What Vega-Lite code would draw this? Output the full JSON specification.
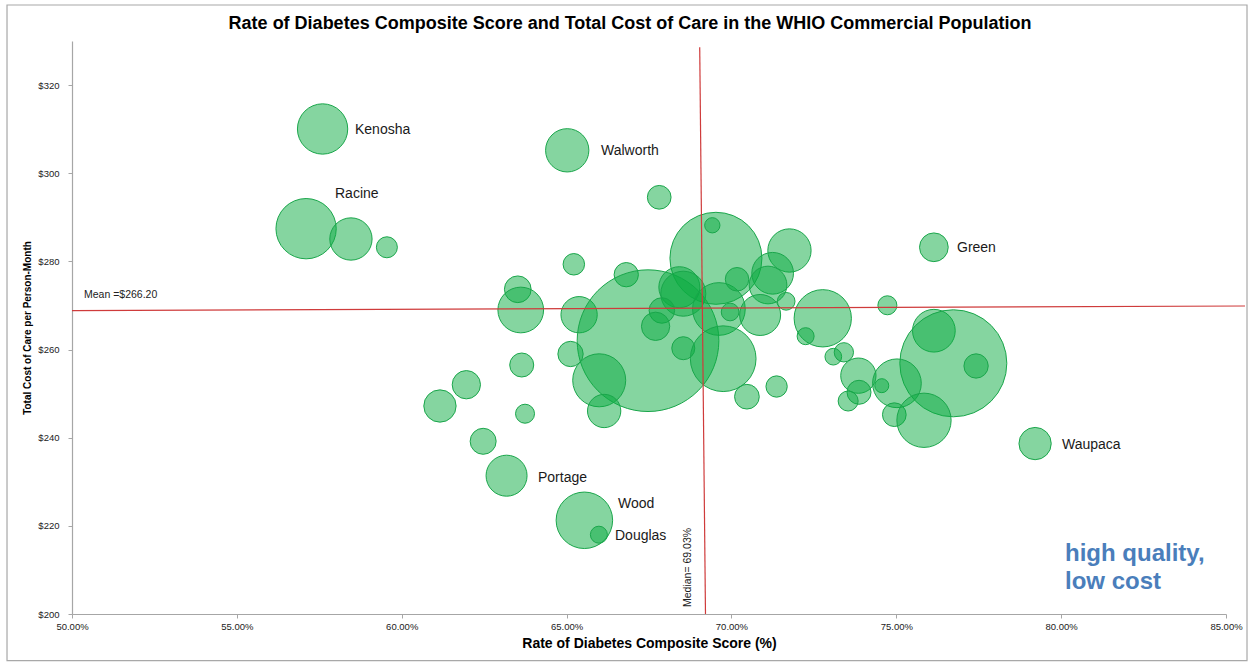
{
  "$schema": "https://vega.github.io/schema/vega-lite/v6.json",
  "width": 1154,
  "height": 573,
  "autosize": {"type": "none"},
  "padding": {"left": 72, "top": 41, "right": 25, "bottom": 48},
  "background": "white",
  "config": {
    "font": "Liberation Sans",
    "view": {"stroke": null},
    "axis": {
      "grid": false,
      "labelFlush": false,
      "domainColor": "#a6a6a6",
      "domainWidth": 1.2,
      "tickColor": "#a6a6a6",
      "tickSize": 4,
      "labelColor": "#222222",
      "titleColor": "#000000",
      "labelFont": "Liberation Sans",
      "titleFont": "Liberation Sans"
    }
  },
  "title": {
    "text": "Rate of Diabetes Composite Score and Total Cost of Care in the WHIO Commercial Population",
    "fontSize": 18,
    "fontWeight": "bold",
    "color": "#000000",
    "anchor": "middle",
    "frame": "group",
    "dx": -19,
    "offset": -29
  },
  "datasets": {
    "counties": [
      {"county": "Kenosha", "rate": 0.5760, "cost": 310.04, "members": 6325},
      {"county": "Racine", "rate": 0.5710, "cost": 287.42, "members": 9090},
      {"county": "", "rate": 0.5846, "cost": 285.08, "members": 4473},
      {"county": "", "rate": 0.5955, "cost": 283.20, "members": 1103},
      {"county": "Walworth", "rate": 0.6502, "cost": 305.20, "members": 4687},
      {"county": "", "rate": 0.6781, "cost": 294.54, "members": 1404},
      {"county": "", "rate": 0.6953, "cost": 280.70, "members": 21160},
      {"county": "", "rate": 0.6942, "cost": 288.19, "members": 585},
      {"county": "", "rate": 0.6522, "cost": 279.34, "members": 1156},
      {"county": "", "rate": 0.7176, "cost": 282.47, "members": 4687},
      {"county": "", "rate": 0.6681, "cost": 276.98, "members": 1476},
      {"county": "", "rate": 0.6352, "cost": 273.67, "members": 1782},
      {"county": "", "rate": 0.6361, "cost": 268.97, "members": 5221},
      {"county": "", "rate": 0.6538, "cost": 267.90, "members": 3294},
      {"county": "", "rate": 0.6747, "cost": 262.01, "members": 50197},
      {"county": "", "rate": 0.6842, "cost": 274.14, "members": 4203},
      {"county": "", "rate": 0.6854, "cost": 272.67, "members": 5063},
      {"county": "", "rate": 0.6789, "cost": 268.86, "members": 1626},
      {"county": "", "rate": 0.6770, "cost": 265.27, "members": 2002},
      {"county": "", "rate": 0.6854, "cost": 260.30, "members": 1323},
      {"county": "", "rate": 0.6962, "cost": 269.20, "members": 6943},
      {"county": "", "rate": 0.6996, "cost": 268.52, "members": 783},
      {"county": "", "rate": 0.6975, "cost": 257.92, "members": 10791},
      {"county": "", "rate": 0.7017, "cost": 275.94, "members": 1381},
      {"county": "", "rate": 0.7125, "cost": 277.30, "members": 4347},
      {"county": "", "rate": 0.7111, "cost": 274.64, "members": 3553},
      {"county": "", "rate": 0.7087, "cost": 267.84, "members": 4203},
      {"county": "", "rate": 0.7166, "cost": 270.94, "members": 783},
      {"county": "", "rate": 0.7277, "cost": 267.09, "members": 8208},
      {"county": "", "rate": 0.7225, "cost": 263.03, "members": 723},
      {"county": "", "rate": 0.7309, "cost": 258.38, "members": 697},
      {"county": "", "rate": 0.7341, "cost": 259.37, "members": 931},
      {"county": "", "rate": 0.6512, "cost": 258.99, "members": 1600},
      {"county": "", "rate": 0.6364, "cost": 256.49, "members": 1440},
      {"county": "", "rate": 0.6599, "cost": 253.02, "members": 7023},
      {"county": "", "rate": 0.6614, "cost": 246.06, "members": 2772},
      {"county": "", "rate": 0.6196, "cost": 252.02, "members": 2002},
      {"county": "", "rate": 0.6116, "cost": 247.19, "members": 2608},
      {"county": "", "rate": 0.6374, "cost": 245.44, "members": 903},
      {"county": "", "rate": 0.7047, "cost": 249.30, "members": 1525},
      {"county": "", "rate": 0.7137, "cost": 251.61, "members": 1134},
      {"county": "", "rate": 0.6247, "cost": 239.18, "members": 1690},
      {"county": "Portage", "rate": 0.6318, "cost": 231.38, "members": 4203},
      {"county": "Wood", "rate": 0.6554, "cost": 221.26, "members": 7981},
      {"county": "Douglas", "rate": 0.6598, "cost": 217.99, "members": 723},
      {"county": "Green", "rate": 0.7614, "cost": 283.20, "members": 2059},
      {"county": "", "rate": 0.7473, "cost": 270.04, "members": 903},
      {"county": "", "rate": 0.7614, "cost": 264.27, "members": 4558},
      {"county": "", "rate": 0.7673, "cost": 256.88, "members": 28623},
      {"county": "", "rate": 0.7742, "cost": 256.27, "members": 1476},
      {"county": "", "rate": 0.7385, "cost": 254.07, "members": 3115},
      {"county": "", "rate": 0.7387, "cost": 250.30, "members": 1440},
      {"county": "", "rate": 0.7354, "cost": 248.32, "members": 1000},
      {"county": "", "rate": 0.7456, "cost": 251.80, "members": 490},
      {"county": "", "rate": 0.7502, "cost": 252.34, "members": 5930},
      {"county": "", "rate": 0.7494, "cost": 245.22, "members": 1404},
      {"county": "", "rate": 0.7584, "cost": 243.95, "members": 7371},
      {"county": "Waupaca", "rate": 0.7921, "cost": 238.67, "members": 2608}
    ],
    "labels": [
      {"county": "Kenosha", "rate": 0.58583, "cost": 309.81},
      {"county": "Racine", "rate": 0.57977, "cost": 295.29},
      {"county": "Walworth", "rate": 0.66044, "cost": 305.04},
      {"county": "Green", "rate": 0.76841, "cost": 283.04},
      {"county": "Waupaca", "rate": 0.80026, "cost": 238.34},
      {"county": "Portage", "rate": 0.64133, "cost": 230.86},
      {"county": "Wood", "rate": 0.66560, "cost": 224.96},
      {"county": "Douglas", "rate": 0.66469, "cost": 217.70}
    ],
    "one": [{}]
  },
  "layer": [
    {
      "description": "Chart-area frame",
      "data": {"name": "one"},
      "mark": {"type": "rect", "fillOpacity": 0, "stroke": "#a8a8a8", "strokeWidth": 1.2},
      "encoding": {
        "x": {"datum": 0.48029, "type": "quantitative", "scale": {"domain": [0.5, 0.85], "nice": false, "zero": false}},
        "x2": {"datum": 0.85637},
        "y": {"datum": 338.17, "type": "quantitative", "scale": {"domain": [200, 330], "nice": false, "zero": false}},
        "y2": {"datum": 189.4}
      }
    },
    {
      "data": {"name": "counties"},
      "mark": {"type": "circle", "fill": "#0bab42", "fillOpacity": 0.5, "stroke": "#1aa64b", "strokeWidth": 1, "opacity": 1},
      "encoding": {
        "x": {
          "field": "rate",
          "type": "quantitative",
          "scale": {"domain": [0.5, 0.85], "nice": false, "zero": false},
          "axis": {
            "title": "Rate of Diabetes Composite Score (%)",
            "format": ".2%",
            "values": [0.5, 0.55, 0.6, 0.65, 0.7, 0.75, 0.8, 0.85],
            "labelFontSize": 9.5,
            "labelPadding": 3,
            "titleFontSize": 14,
            "titleFontWeight": "bold",
            "titlePadding": 6
          }
        },
        "y": {
          "field": "cost",
          "type": "quantitative",
          "scale": {"domain": [200, 330], "nice": false, "zero": false},
          "axis": {
            "title": "Total Cost of Care per Person-Month",
            "format": "$.0f",
            "values": [200, 220, 240, 260, 280, 300, 320],
            "labelFontSize": 9.5,
            "labelPadding": 9,
            "titleFontSize": 10,
            "titleFontWeight": "bold",
            "titlePadding": 5
          }
        },
        "size": {
          "field": "members",
          "type": "quantitative",
          "scale": {"type": "linear", "domain": [0, 60000], "range": [0, 24000], "zero": true},
          "legend": null
        }
      }
    },
    {
      "description": "Mean cost line",
      "data": {"name": "one"},
      "mark": {"type": "rule", "color": "#cf3b3b", "strokeWidth": 1.2},
      "encoding": {
        "x": {"datum": 0.5, "type": "quantitative"},
        "x2": {"datum": 0.85576},
        "y": {"datum": 268.81, "type": "quantitative"},
        "y2": {"datum": 269.88}
      }
    },
    {
      "description": "Median rate line",
      "data": {"name": "one"},
      "mark": {"type": "rule", "color": "#cf3b3b", "strokeWidth": 1.2},
      "encoding": {
        "x": {"datum": 0.69038, "type": "quantitative"},
        "x2": {"datum": 0.69213},
        "y": {"datum": 328.57, "type": "quantitative"},
        "y2": {"datum": 200}
      }
    },
    {
      "data": {"name": "one"},
      "mark": {"type": "text", "text": "Mean =$266.20", "align": "left", "baseline": "middle", "fontSize": 10.5, "color": "#222222"},
      "encoding": {
        "x": {"datum": 0.50364, "type": "quantitative"},
        "y": {"datum": 272.37, "type": "quantitative"}
      }
    },
    {
      "data": {"name": "one"},
      "mark": {"type": "text", "text": "Median= 69.03%", "angle": 270, "align": "left", "baseline": "middle", "fontSize": 10.5, "color": "#222222"},
      "encoding": {
        "x": {"datum": 0.68683, "type": "quantitative"},
        "y": {"datum": 201.59, "type": "quantitative"}
      }
    },
    {
      "data": {"name": "labels"},
      "mark": {"type": "text", "align": "left", "baseline": "middle", "fontSize": 14, "color": "#1a1a1a"},
      "encoding": {
        "x": {"field": "rate", "type": "quantitative"},
        "y": {"field": "cost", "type": "quantitative"},
        "text": {"field": "county"}
      }
    },
    {
      "data": {"name": "one"},
      "mark": {"type": "text", "text": ["high quality,", "low cost"], "align": "left", "baseline": "top", "fontSize": 24, "fontWeight": "bold", "lineHeight": 28, "color": "#4a7ebb"},
      "encoding": {
        "x": {"datum": 0.80117, "type": "quantitative"},
        "y": {"datum": 216.34, "type": "quantitative"}
      }
    }
  ]
}
